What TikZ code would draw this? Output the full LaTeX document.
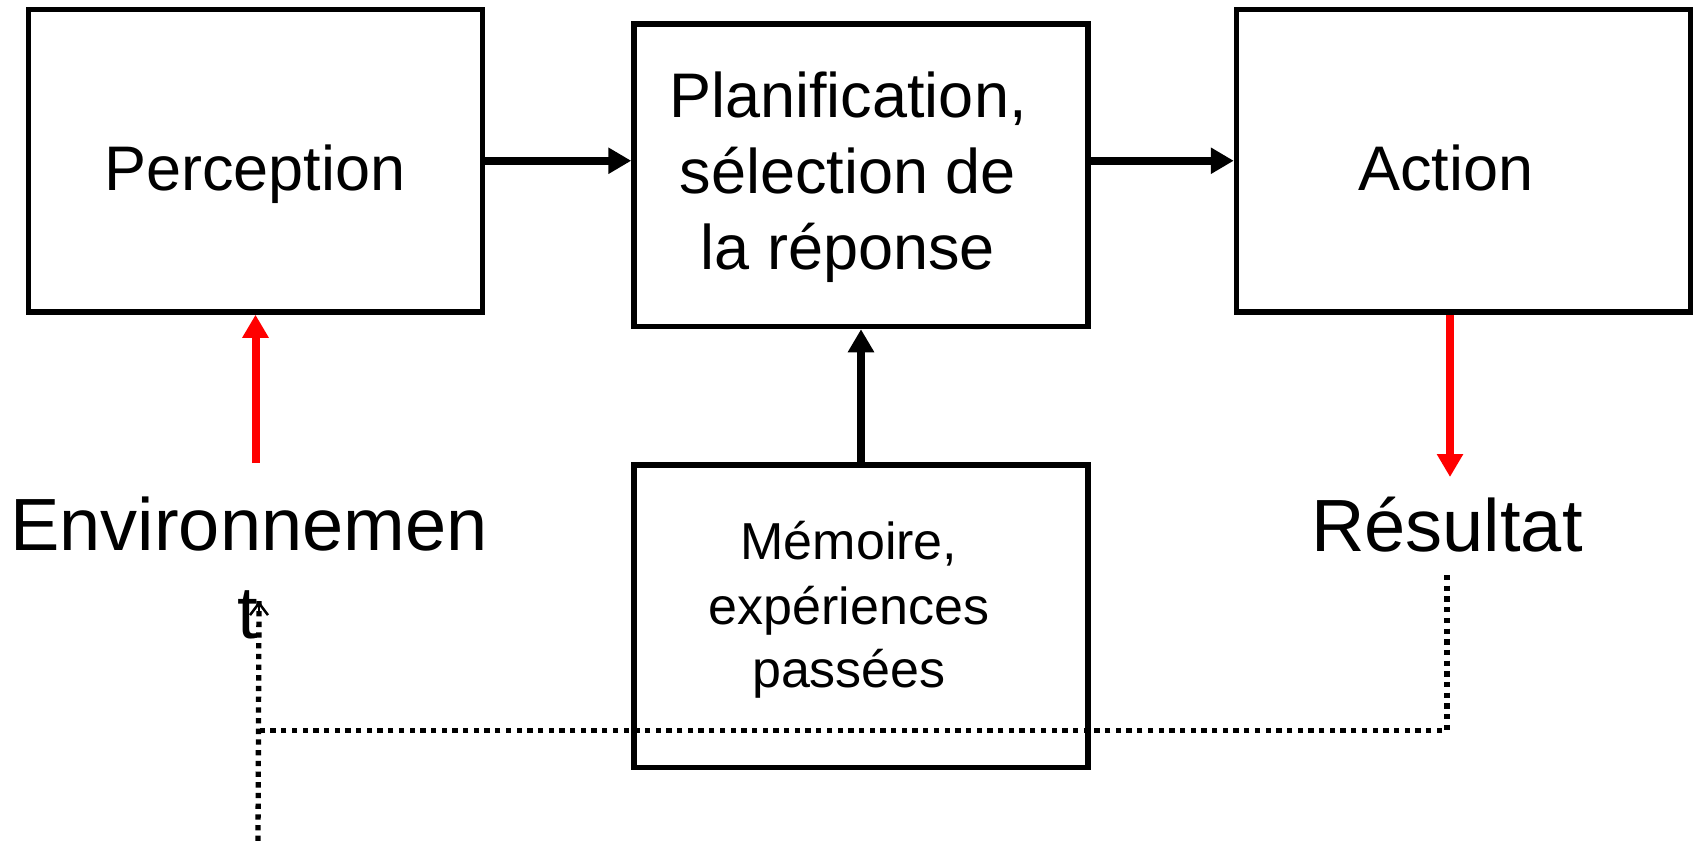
\documentclass[tikz,border=0pt]{standalone}
\usepackage{fontspec}
\setmainfont{Liberation Sans}
\usetikzlibrary{arrows.meta}
\tikzset{
  box/.style={draw=black,line width=5.5pt,rectangle,minimum width=454pt,minimum height=302.5pt,inner sep=0pt},
  big/.style={font=\fontsize{63}{76}\selectfont,anchor=base,inner sep=0pt},
  mid/.style={font=\fontsize{52}{64}\selectfont,anchor=base,inner sep=0pt},
  huge/.style={font=\fontsize{74}{88}\selectfont,anchor=base,inner sep=0pt},
  blk/.style={draw=black,line width=7.5pt,-{Triangle[length=23pt,width=25pt]}},
  redarr/.style={draw=red,line width=8pt,-{Triangle[length=23pt,width=25pt]}},
  dots/.style={draw=black,line width=5.3pt,dash pattern=on 5.3pt off 5.4pt},
}
\begin{document}
\begin{tikzpicture}[x=1pt,y=-1pt]
\useasboundingbox (0,0) rectangle (1701,841);
% boxes
\node[box] (perc) at (255.5,160.75) {};
\node[box] (plan) at (861,175.25) {};
\node[box] (act) at (1463.5,160.75) {};
\node[box] (mem) at (861,616) {};
% texts
\node[big] (tperc) at (255,190) {Perception};
\node[big] (tact) at (1446,190) {Action};
\node[big] (tplan1) at (848,117) {Planification,};
\node[big] (tplan2) at (848,193) {sélection de};
\node[big] (tplan3) at (848,269) {la réponse};
\node[mid] (tmem1) at (849,559) {Mémoire,};
\node[mid] (tmem2) at (849,624) {expériences};
\node[mid] (tmem3) at (849,687) {passées};
\node[huge] (env1) at (249,550) {Environnemen};
\node[huge] (env2) at (248,638) {t};
\node[huge] (res) at (1447,551) {Résultat};
% black arrows
\draw[blk] (perc.east) -- (perc.east -| plan.west);
\draw[blk] (plan.east |- act.west) -- (act.west);
\draw[blk] (mem.north) -- (plan.south);
% red arrows
\coordinate (envtop) at (255.5,463);
\coordinate (resend) at (1450,477);
\draw[redarr] (envtop) -- (perc.south);
\draw[redarr] (act.south -| resend) -- (resend);
% dotted feedback
\coordinate (d1) at (1447,575);
\coordinate (d2) at (1447,730.5);
\coordinate (d3) at (258,730.5);
\coordinate (d4) at (258,841);
\coordinate (d5) at (259,601);
\draw[dots] (d1) -- (d2) -- (d3);
\draw[dots] (d4) -- (d5);
\draw[black,line width=2.5pt,-{Straight Barb[length=12pt,width=18pt]}] (259,615) -- (d5);
\end{tikzpicture}
\end{document}
